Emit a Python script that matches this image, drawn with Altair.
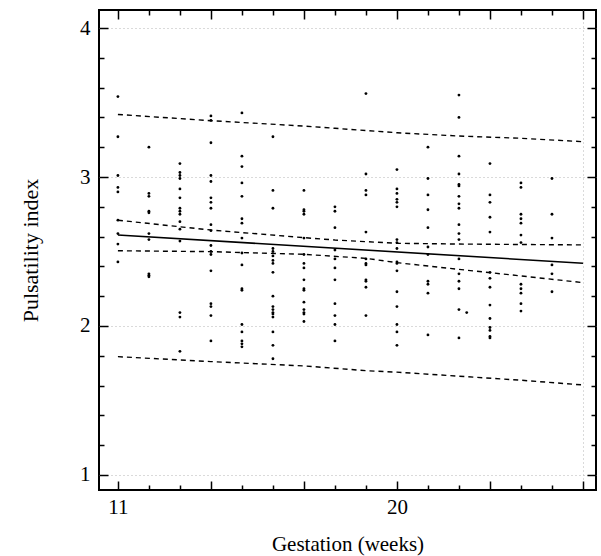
import altair as alt
import pandas as pd

# ---- data ----
weeks = [11, 12, 13, 14, 15, 16, 17, 18, 19, 20, 21, 22, 23, 24, 25]
pi_by_week = [
    [3.54, 3.27, 3.01, 2.93, 2.90, 2.71, 2.62, 2.55, 2.43],
    [3.20, 2.89, 2.87, 2.77, 2.76, 2.62, 2.58, 2.35, 2.34, 2.33],
    [3.09, 3.03, 3.01, 2.99, 2.92, 2.86, 2.79, 2.77, 2.75, 2.70, 2.65, 2.57, 2.09, 2.06, 1.83],
    [3.41, 3.38, 3.23, 3.01, 2.97, 2.86, 2.83, 2.79, 2.68, 2.64, 2.54, 2.50, 2.48, 2.37, 2.15, 2.13, 2.07, 1.90],
    [3.43, 3.14, 3.07, 2.96, 2.87, 2.72, 2.69, 2.59, 2.49, 2.41, 2.25, 2.24, 2.01, 1.96, 1.90, 1.88, 1.86],
    [3.27, 2.91, 2.79, 2.52, 2.50, 2.47, 2.44, 2.42, 2.36, 2.20, 2.13, 2.11, 2.09, 2.08, 2.06, 1.96, 1.87, 1.78],
    [2.91, 2.78, 2.77, 2.75, 2.59, 2.48, 2.42, 2.39, 2.31, 2.25, 2.24, 2.16, 2.11, 2.09, 2.08, 2.03],
    [2.80, 2.77, 2.66, 2.51, 2.45, 2.39, 2.31, 2.15, 2.07, 2.01, 1.90],
    [3.56, 3.02, 2.91, 2.88, 2.63, 2.45, 2.42, 2.41, 2.31, 2.30, 2.26, 2.07],
    [3.05, 2.92, 2.89, 2.85, 2.83, 2.80, 2.58, 2.56, 2.52, 2.43, 2.42, 2.37, 2.23, 2.13, 2.01, 1.96, 1.87],
    [3.20, 2.99, 2.88, 2.78, 2.66, 2.53, 2.48, 2.30, 2.28, 2.22, 1.94],
    [3.55, 3.40, 3.14, 3.02, 2.95, 2.94, 2.87, 2.82, 2.79, 2.68, 2.62, 2.58, 2.45, 2.35, 2.30, 2.25, 2.11, 1.92],
    [3.09, 2.88, 2.83, 2.73, 2.63, 2.36, 2.32, 2.26, 2.14, 2.05, 1.99, 1.97, 1.93, 1.92],
    [2.96, 2.93, 2.75, 2.72, 2.69, 2.61, 2.56, 2.28, 2.25, 2.22, 2.15, 2.10],
    [2.99, 2.75, 2.59, 2.41, 2.35, 2.23],
]
extra_x = [22.25]
extra_pi = [2.09]

fit_x = [11, 26]
fit_y = [2.611, 2.421]
upper_ci_x = [11, 14, 17, 18, 20, 22, 24, 26]
upper_ci_y = [2.71, 2.644, 2.593, 2.577, 2.555, 2.55, 2.547, 2.544]
lower_ci_x = [11, 14, 17, 19, 20, 22, 24, 26]
lower_ci_y = [2.505, 2.499, 2.481, 2.454, 2.425, 2.38, 2.336, 2.291]
upper_pi_x = [11, 14, 17, 18, 20, 22, 24, 26]
upper_pi_y = [3.42, 3.378, 3.342, 3.327, 3.297, 3.275, 3.26, 3.237]
lower_pi_x = [11, 14, 17, 19, 20, 22, 24, 26]
lower_pi_y = [1.794, 1.761, 1.732, 1.70, 1.69, 1.663, 1.636, 1.604]

x_minor = [12, 13, 15, 16, 18, 19, 21, 22, 24, 25]
x_major = [11, 14, 17, 20, 23, 26]
y_minor = [1.2, 1.4, 1.6, 1.8, 2.2, 2.4, 2.6, 2.8, 3.2, 3.4, 3.6, 3.8]
y_major = [1, 2, 3, 4]

# ---- tables ----
gx, gy = [], []
for w, vals in zip(weeks, pi_by_week):
    gx += [w] * len(vals)
    gy += vals
gx += extra_x
gy += extra_pi
pts = pd.DataFrame({"gestation": gx, "pi": gy})

fit = pd.DataFrame({"gestation": fit_x, "pi": fit_y})
bands = pd.concat([
    pd.DataFrame({"gestation": upper_ci_x, "pi": upper_ci_y, "s": "uci"}),
    pd.DataFrame({"gestation": lower_ci_x, "pi": lower_ci_y, "s": "lci"}),
    pd.DataFrame({"gestation": upper_pi_x, "pi": upper_pi_y, "s": "upi"}),
    pd.DataFrame({"gestation": lower_pi_x, "pi": lower_pi_y, "s": "lpi"}),
])

FONT = "Liberation Serif"
XS = alt.Scale(domain=[10.39, 26.42], nice=False, zero=False)
YS = alt.Scale(domain=[0.899, 4.121], nice=False, zero=False)


def tick_axis(orient, values, size):
    return alt.Axis(orient=orient, values=values, ticks=True, tickSize=size,
                    tickWidth=1.5, tickColor="black", offset=-size,
                    labels=False, domain=False, grid=False, title=None)


def helper(xaxis, yaxis):
    return alt.Chart(pts).mark_circle(opacity=0, size=1).encode(
        x=alt.X("gestation:Q", scale=XS, axis=xaxis),
        y=alt.Y("pi:Q", scale=YS, axis=yaxis),
    )


grid = helper(
    alt.Axis(orient="bottom", values=[26], grid=True, gridColor="#b5b5b5",
             gridDash=[1, 3], gridWidth=1, ticks=False, labels=False,
             domain=False, title=None),
    alt.Axis(orient="left", values=y_major, grid=True, gridColor="#b5b5b5",
             gridDash=[1, 3], gridWidth=1, ticks=False, labels=False,
             domain=False, title=None),
)

band_lines = alt.Chart(bands).mark_line(
    color="black", strokeWidth=1.4, strokeDash=[5, 4]
).encode(
    x=alt.X("gestation:Q", scale=XS, axis=None),
    y=alt.Y("pi:Q", scale=YS, axis=None),
    detail="s:N",
)

fit_line = alt.Chart(fit).mark_line(color="black", strokeWidth=1.6).encode(
    x=alt.X("gestation:Q", scale=XS, axis=None),
    y=alt.Y("pi:Q", scale=YS, axis=None),
)

points = alt.Chart(pts).mark_circle(size=8, color="black", opacity=1).encode(
    x=alt.X("gestation:Q", scale=XS,
            axis=alt.Axis(orient="bottom", values=[11, 20], ticks=False,
                          tickSize=0, domain=False, grid=False,
                          labelFont=FONT, labelFontSize=21, labelColor="black",
                          labelPadding=6, title="Gestation (weeks)",
                          titleFont=FONT, titleFontSize=21,
                          titleFontWeight="normal", titleColor="black",
                          titlePadding=16)),
    y=alt.Y("pi:Q", scale=YS,
            axis=alt.Axis(orient="left", values=y_major, ticks=False,
                          tickSize=0, domain=False, grid=False,
                          labelFont=FONT, labelFontSize=21, labelColor="black",
                          labelPadding=9, title="Pulsatility index",
                          titleFont=FONT, titleFontSize=22,
                          titleFontWeight="normal", titleColor="black",
                          titlePadding=37)),
)

t1 = helper(tick_axis("bottom", x_minor, 5), tick_axis("left", y_minor, 5))
t2 = helper(tick_axis("bottom", x_major, 9), tick_axis("left", y_major, 9))
t3 = helper(tick_axis("top", x_minor, 5), tick_axis("right", y_minor, 5))
t4 = helper(tick_axis("top", x_major, 9), tick_axis("right", y_major, 9))

chart = alt.layer(grid, band_lines, fit_line, points, t1, t2, t3, t4).resolve_axis(
    x="independent", y="independent"
).properties(
    width=497, height=480,
    autosize=alt.AutoSizeParams(type="none"),
    padding={"left": 99, "top": 10, "right": 5, "bottom": 66},
    background="white",
).configure_view(stroke="black", strokeWidth=2)

chart.save("out.html", embed_options={"renderer": "svg", "actions": False})
